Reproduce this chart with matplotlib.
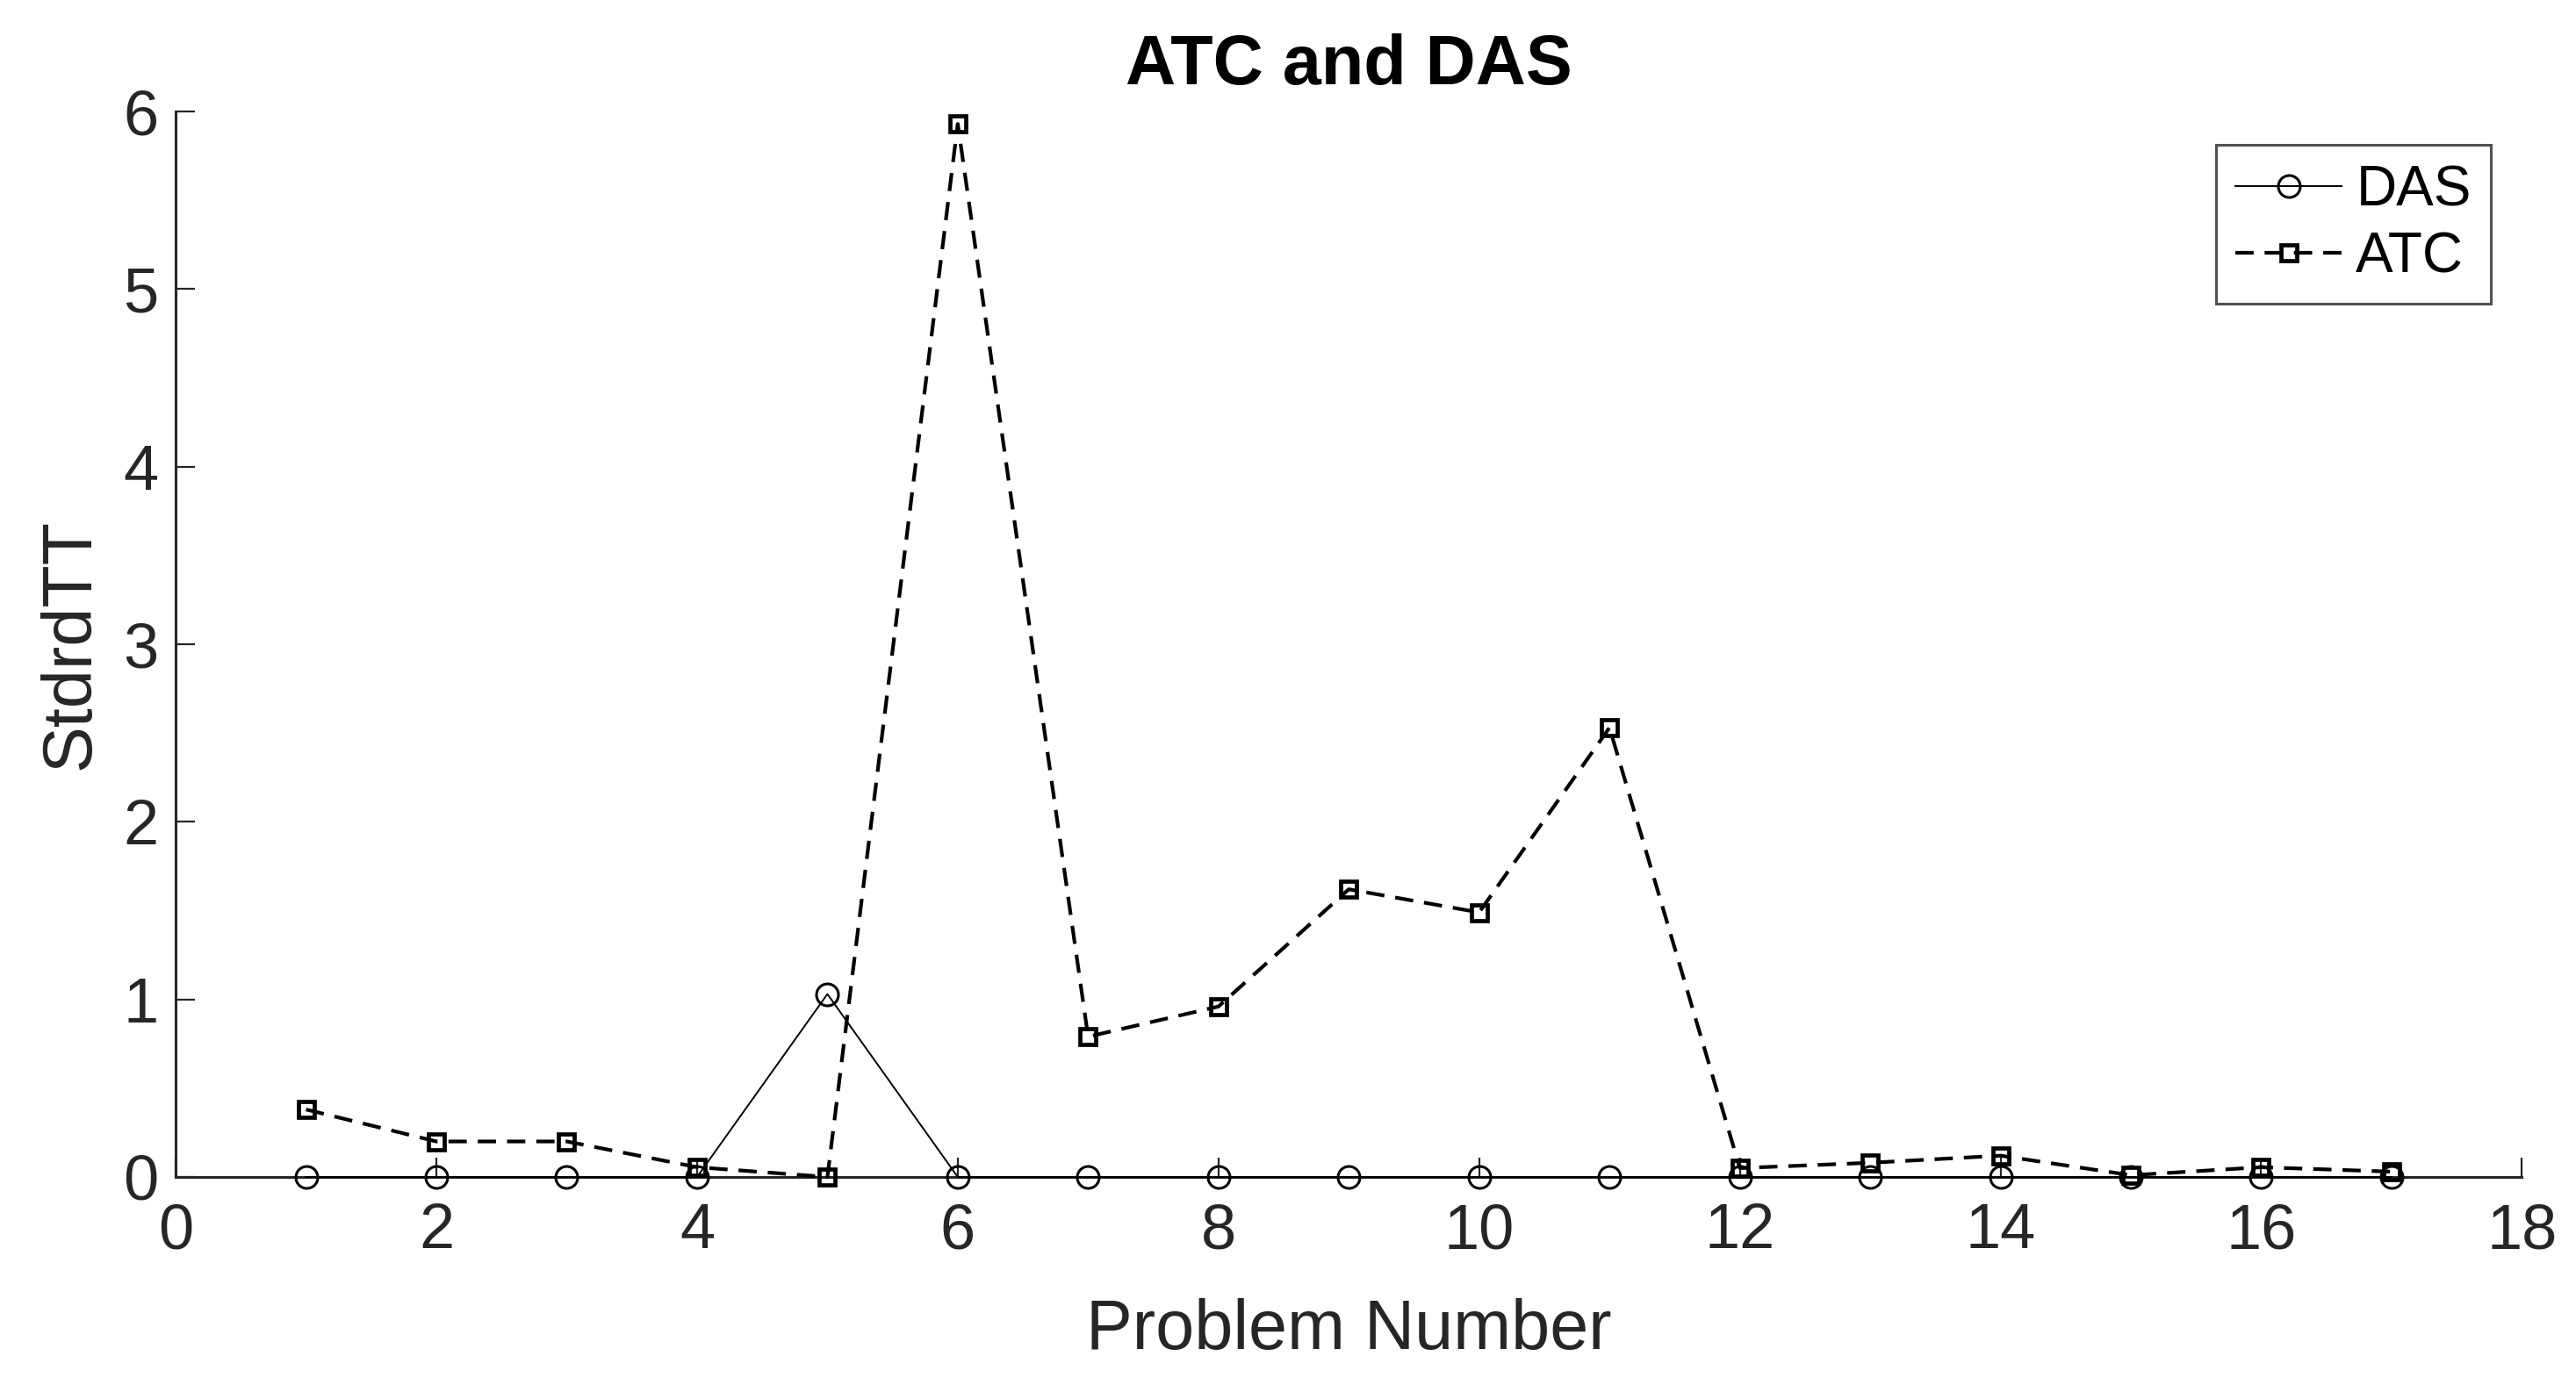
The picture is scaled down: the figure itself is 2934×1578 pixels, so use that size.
import matplotlib.pyplot as plt
import numpy as np

# Data
problem = np.arange(1, 18)
das = [0, 0, 0, 0, 1.03, 0, 0, 0, 0, 0, 0, 0, 0, 0, 0, 0, 0]
atc = [0.38, 0.20, 0.20, 0.055, 0.0, 5.93, 0.79, 0.96, 1.62, 1.49, 2.53,
       0.05, 0.08, 0.12, 0.01, 0.055, 0.03]

x_ticks = [0, 2, 4, 6, 8, 10, 12, 14, 16, 18]
y_ticks = [0, 1, 2, 3, 4, 5, 6]

plt.rcParams['font.family'] = ['Liberation Sans', 'DejaVu Sans']
text_col = '#262626'

fig = plt.figure(figsize=(29.34, 15.78), dpi=100)
ax = fig.add_axes([0.0682, 0.1502, 0.979 - 0.0682, 0.9195 - 0.1502])

ax.plot(problem, das, '-', color='black', linewidth=1.4, marker='o',
        markersize=18, markerfacecolor='none', markeredgewidth=2.2,
        clip_on=False, zorder=3, label='DAS')
ax.plot(problem, atc, '--', color='black', linewidth=3.0, marker='s',
        markersize=13, markerfacecolor='none', markeredgewidth=3.4,
        dashes=(5, 3), clip_on=False, zorder=4, label='ATC')

ax.set_xlim(0, 18)
ax.set_ylim(0, 6)
ax.set_xticks(x_ticks)
ax.set_yticks(y_ticks)

ax.spines['top'].set_visible(False)
ax.spines['right'].set_visible(False)
for s in ['left', 'bottom']:
    ax.spines[s].set_color(text_col)
    ax.spines[s].set_linewidth(2.2)

ax.tick_params(direction='in', length=16, width=1.6, colors=text_col,
               labelsize=52)
ax.tick_params(axis='x', pad=21)
ax.tick_params(axis='y', pad=14)

ax.set_xlabel('Problem Number', fontsize=57, color=text_col, labelpad=30)
ax.set_ylabel('StdrdTT', fontsize=57, color=text_col, labelpad=16)
ax.set_title('ATC and DAS', fontsize=57, fontweight='bold', color='black', pad=22)

leg = ax.legend(loc='upper right', bbox_to_anchor=(2837 / 2934, 1 - 165 / 1578),
                bbox_transform=fig.transFigure, fontsize=46, frameon=True,
                fancybox=False, handlelength=1.9, handletextpad=0.25,
                borderpad=0.35, labelspacing=0.25, borderaxespad=0)
leg.get_frame().set_edgecolor(text_col)
leg.get_frame().set_linewidth(2.2)
for t in leg.get_texts():
    t.set_color('black')

fig.savefig('out.png', dpi=100)
